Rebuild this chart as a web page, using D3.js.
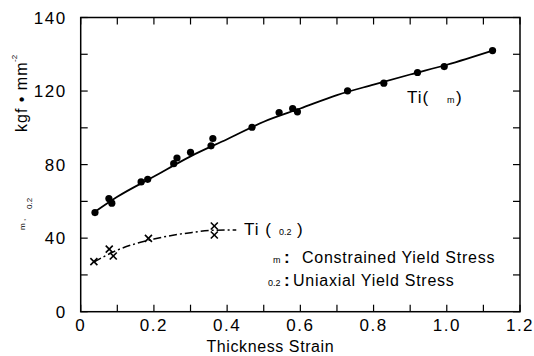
<!DOCTYPE html>
<html><head><meta charset="utf-8">
<script src="https://cdn.jsdelivr.net/npm/d3@7"></script>
<style>
body{margin:0;background:#fff;}
svg text{font-family:"Liberation Sans",Arial,sans-serif;fill:#000;}
</style></head>
<body><svg id="c" width="534" height="356"></svg>
<script>
// Data
const ctsX = [0.039,0.077,0.085,0.165,0.183,0.254,0.263,0.300,0.356,0.361,0.468,0.542,0.579,0.592,0.729,0.828,0.920,0.993,1.125];
const ctsY = [53.9,61.5,59.0,70.6,72.0,80.5,83.6,86.7,90.2,94.2,100.3,108.3,110.5,108.7,120.1,124.3,130.1,133.3,142.0];
const fitX = [0.04,0.1,0.2,0.3,0.4,0.5,0.6,0.7,0.8,0.9,1.0,1.125];
const fitY = [54.5,62.5,73.5,84.5,93.8,103.3,110.5,117.8,123.5,129.0,134.3,142.0];
const uniX = [0.036,0.078,0.089,0.185,0.365,0.365];
const uniY = [27.2,34.0,30.3,39.9,46.6,41.7];
const ufitX = [0.036,0.1,0.2,0.3,0.365,0.425];
const ufitY = [27.0,33.5,39.5,43.0,44.3,44.5];
const xTickVals = [0,0.1,0.2,0.3,0.4,0.5,0.6,0.7,0.8,0.9,1.0,1.1,1.2];
const xLabelVals = [0,0.2,0.4,0.6,0.8,1.0,1.2];
const xLabels = ["0","0.2","0.4","0.6","0.8","1.0","1.2"];
const yTickVals = [0,20,40,60,80,100,120,140,160];
const yLabelVals = [0,40,80,120,160];
const yLabels = ["0","40","80","120","140"];

const svg = d3.select("#c");
const L=80.7, R=520, T=17.5, B=311.7;
const x = d3.scaleLinear().domain([0,1.2]).range([L,R]);
const y = d3.scaleLinear().domain([0,160]).range([B,T]);
const tk = 7;

// ticks
const g = svg.append("g").attr("stroke","#000").attr("stroke-width",1.2);
xTickVals.forEach(v=>{
  g.append("line").attr("x1",x(v)).attr("x2",x(v)).attr("y1",B).attr("y2",B-tk);
  g.append("line").attr("x1",x(v)).attr("x2",x(v)).attr("y1",T).attr("y2",T+tk);
});
yTickVals.forEach(v=>{
  g.append("line").attr("x1",L).attr("x2",L+tk).attr("y1",y(v)).attr("y2",y(v));
  g.append("line").attr("x1",R).attr("x2",R-tk).attr("y1",y(v)).attr("y2",y(v));
});
svg.append("rect").attr("x",L).attr("y",T).attr("width",R-L).attr("height",B-T)
  .attr("fill","none").attr("stroke","#000").attr("stroke-width",1.5);

// tick labels
xLabelVals.forEach((v,i)=>{
  svg.append("text").attr("x",x(v)).attr("y",B+19).attr("text-anchor","middle")
    .attr("font-size",17).attr("letter-spacing",1.5).text(xLabels[i]);
});
yLabelVals.forEach((v,i)=>{
  svg.append("text").attr("x",L-14).attr("y",y(v)+6).attr("text-anchor","end")
    .attr("font-size",17).attr("letter-spacing",1.5).text(yLabels[i]);
});

// axis titles
svg.append("text").attr("x",(L+R)/2-30).attr("y",352).attr("text-anchor","middle")
  .attr("font-size",16).attr("letter-spacing",0.6).text("Thickness Strain");
const yt = svg.append("g").attr("transform","translate(27,0) rotate(-90)");
yt.append("text").attr("x",-132).attr("y",0).attr("font-size",16).attr("letter-spacing",1).text("kgf • mm");
yt.append("text").attr("x",-62).attr("y",-10).attr("font-size",8).text("-2");
yt.append("text").attr("x",-209).attr("y",5).attr("font-size",8).text("0.2");
yt.append("text").attr("x",-230).attr("y",-2).attr("font-size",8).text("m ,");

// curves
const line = d3.line().x(d=>x(d[0])).y(d=>y(d[1])).curve(d3.curveMonotoneX);
svg.append("path").attr("d",line(fitX.map((v,i)=>[v,fitY[i]])))
  .attr("fill","none").attr("stroke","#000").attr("stroke-width",1.8);
svg.append("path").attr("d",line(ufitX.map((v,i)=>[v,ufitY[i]])))
  .attr("fill","none").attr("stroke","#000").attr("stroke-width",1.5)
  .attr("stroke-dasharray","8,3,2,3");

// markers
svg.selectAll("circle.p").data(ctsX.map((v,i)=>[v,ctsY[i]])).enter().append("circle")
  .attr("cx",d=>x(d[0])).attr("cy",d=>y(d[1])).attr("r",3.6).attr("fill","#000");
const cr = 3.5;
const cg = svg.append("g").attr("stroke","#000").attr("stroke-width",1.6);
uniX.forEach((v,i)=>{
  const cx=x(v), cy=y(uniY[i]);
  cg.append("line").attr("x1",cx-cr).attr("y1",cy-cr).attr("x2",cx+cr).attr("y2",cy+cr);
  cg.append("line").attr("x1",cx-cr).attr("y1",cy+cr).attr("x2",cx+cr).attr("y2",cy-cr);
});

// labels
svg.append("text").attr("x",407).attr("y",103).attr("font-size",17).attr("letter-spacing",1).text("Ti(");
svg.append("text").attr("x",447).attr("y",103).attr("font-size",9).text("m");
svg.append("text").attr("x",456).attr("y",103).attr("font-size",17).text(")");

svg.append("text").attr("x",244).attr("y",235).attr("font-size",17).attr("letter-spacing",1).text("Ti (");
svg.append("text").attr("x",279).attr("y",235).attr("font-size",9).text("0.2");
svg.append("text").attr("x",297).attr("y",235).attr("font-size",17).text(")");

svg.append("text").attr("x",273).attr("y",263).attr("font-size",9).text("m");
svg.append("text").attr("x",284).attr("y",263).attr("font-size",17).attr("font-weight","bold").text(":");
svg.append("text").attr("x",302).attr("y",263).attr("font-size",16).attr("letter-spacing",0.75).text("Constrained Yield Stress");
svg.append("text").attr("x",268).attr("y",286).attr("font-size",9).text("0.2");
svg.append("text").attr("x",284).attr("y",286).attr("font-size",17).attr("font-weight","bold").text(":");
svg.append("text").attr("x",293).attr("y",286).attr("font-size",16).attr("letter-spacing",0.75).text("Uniaxial Yield Stress");
</script></body></html>
